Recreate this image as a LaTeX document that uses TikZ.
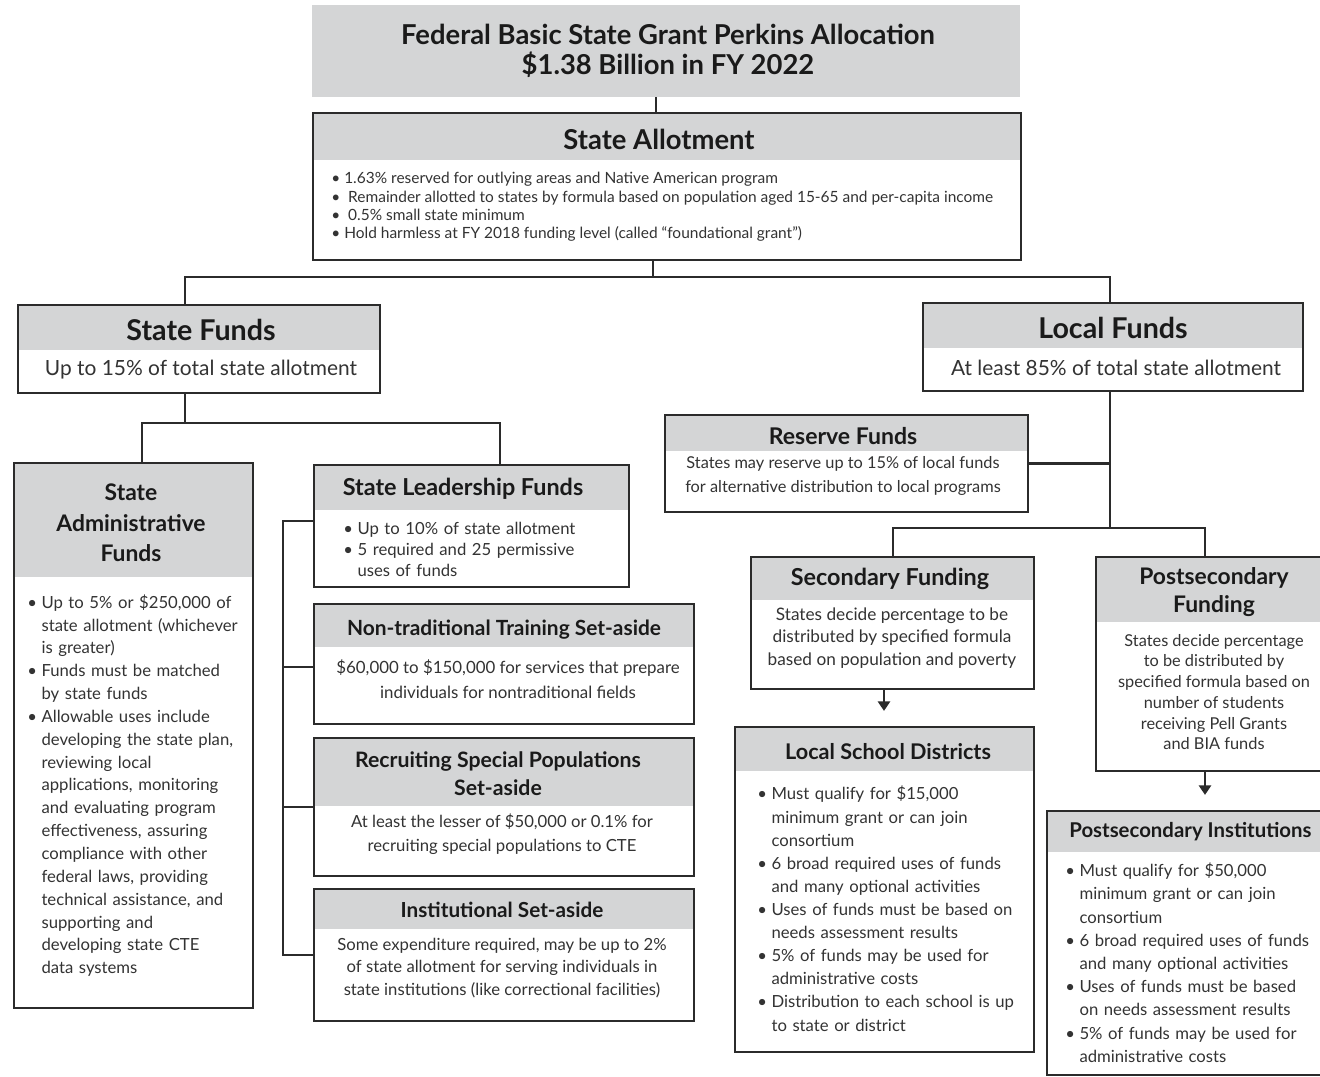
\documentclass[tikz,border=0pt]{standalone}
\usepackage{fontspec}
\setmainfont{Lato}
\usetikzlibrary{fit,arrows.meta}
\definecolor{hdr}{HTML}{D4D5D6}
\definecolor{linec}{HTML}{2B2B2B}
\definecolor{bodyc}{HTML}{333333}
\definecolor{headc}{HTML}{1A1A1A}
\newcommand\fsz[2]{\fontsize{#1}{#2}\selectfont}
\newcommand\bitem{\par\noindent\hangindent=0.85em\hangafter=1\makebox[0.85em][l]{\textbullet}}
\newcommand\panel[6]{\fill[hdr] (#2,#3) rectangle (#4,#6); \node[panel, fit={(#2,#3) (#4,#5)}] (#1) {};}
\begin{document}
\begin{tikzpicture}[x=0.02cm,y=-0.02cm,
 panel/.style={draw=linec,line width=1.3pt,inner sep=0pt},
 conn/.style={draw=linec,line width=1.3pt},
 arr/.style={draw=linec,line width=1.3pt,-{Triangle[width=7pt,length=5.5pt]}},
 head/.style={font=\bfseries\fsz{12.5}{16}, text=headc, align=center, inner sep=0pt},
 bighead/.style={font=\bfseries\fsz{16.3}{19}, text=headc, align=center, inner sep=0pt},
 body/.style={text=bodyc, align=center, inner sep=0pt},
 blist/.style={text=bodyc, inner sep=0pt, anchor=west, text width=#1}]
\useasboundingbox (0,0) rectangle (1320,1077);
\clip (0,0) rectangle (1320,1077);
\fill[white] (0,0) rectangle (1320,1077);

% title
\fill[hdr] (312,5) rectangle (1020,97);
\node[fit={(312,5) (1020,97)}, inner sep=0pt] (ttl) {};
\node[font=\bfseries\fsz{15.6}{17}, text=headc, align=center, inner sep=0pt] (ttlt) at (668,51)
 {Federal Basic State Grant Perkins Allocation\\\$1.38 Billion in FY 2022};

% panels
\panel{sa}{313}{113}{1021}{260}{160}
\panel{sf}{18}{305}{380}{393}{350}
\panel{lf}{923}{303}{1303}{391}{348}
\panel{adm}{14}{463}{253}{1008}{577}
\panel{lead}{314}{465}{629}{587}{510}
\panel{ntr}{314}{604}{694}{724}{647}
\panel{rec}{314}{738}{694}{876}{806}
\panel{inst}{314}{889}{694}{1021}{929}
\panel{res}{665}{415}{1028}{512}{451}
\panel{sec}{751}{557}{1034}{689}{600}
\panel{lsd}{735}{727}{1034}{1052}{771}
\panel{psf}{1096}{557}{1340}{771}{622}
\panel{psi}{1047}{811}{1340}{1075}{852}

% connectors
\coordinate (j0) at (656,105);
\draw[conn] (j0 |- ttl.south) -- (j0 |- sa.north);
\coordinate (j1) at (653,277);
\coordinate (jL) at (185,277);
\coordinate (jR) at (1110,277);
\draw[conn] (j1 |- sa.south) -- (j1);
\draw[conn] (jL |- sf.north) -- (jL) -- (jR) -- (jR |- lf.north);
\coordinate (j2) at (185,423);
\coordinate (j2L) at (142,423);
\coordinate (j2R) at (500,423);
\draw[conn] (j2 |- sf.south) -- (j2);
\draw[conn] (j2L |- adm.north) -- (j2L) -- (j2R) -- (j2R |- lead.north);
\coordinate (b1) at (283,521);
\coordinate (b2) at (283,667);
\coordinate (b3) at (283,807);
\coordinate (b4) at (283,955);
\draw[conn] (b1 -| lead.west) -- (b1) -- (b4) -- (b4 -| inst.west);
\draw[conn] (b2) -- (b2 -| ntr.west);
\draw[conn] (b3) -- (b3 -| rec.west);
\coordinate (j3) at (1110,528);
\draw[conn] (j3 |- lf.south) -- (j3);
\draw[conn] (res.east) -- (res.east -| j3);
\coordinate (j4L) at (893,528);
\coordinate (j4R) at (1205,528);
\draw[conn] (j4L |- sec.north) -- (j4L) -- (j4R) -- (j4R |- psf.north);
\coordinate (a1) at (884,700);
\coordinate (a2) at (1205,790);
\draw[arr, shorten >=8.5pt] (a1 |- sec.south) -- (a1 |- lsd.north);
\draw[arr, shorten >=8.5pt] (a2 |- psf.south) -- (a2 |- psi.north);

% State Allotment
\node[bighead, font=\bfseries\fsz{15.6}{19}] (sah) at (659,139) {State Allotment};
\node[text=bodyc, align=left, inner sep=0pt, anchor=west, font=\fsz{8.8}{10.4}] (sab) at (331,207)
 {\textbullet\ 1.63\% reserved for outlying areas and Native American program\\
  \textbullet\ \ Remainder allotted to states by formula based on population aged 15-65 and per-capita income\\
  \textbullet\ \ 0.5\% small state minimum\\
  \textbullet\ Hold harmless at FY 2018 funding level (called ``foundational grant'')};

% State Funds / Local Funds
\node[bighead] (sfh) at (201,330) {State Funds};
\node[body, font=\fsz{11.9}{13}] (sfb) at (201,370) {Up to 15\% of total state allotment};
\node[bighead] (lfh) at (1113,328) {Local Funds};
\node[body, font=\fsz{11.9}{13}] (lfb) at (1116,368) {At least 85\% of total state allotment};

% Reserve
\node[head, font=\bfseries\fsz{13.1}{16}] (resh) at (843,436) {Reserve Funds};
\node[body, font=\fsz{9.3}{13.6}] (resb) at (843,476) {States may reserve up to 15\% of local funds\\for alternative distribution to local programs};

% State Administrative Funds
\node[head, font=\bfseries\fsz{13}{17.3}] (admh) at (131,523) {State\\Administrative\\Funds};
\node[blist=4.6cm, font=\fsz{9.5}{13}] (admb) at (27,781)
 {\bitem Up to 5\% or \$250,000 of\newline state allotment (whichever\newline is greater)
  \bitem Funds must be matched\newline by state funds
  \bitem Allowable uses include\newline developing the state plan,\newline reviewing local\newline applications, monitoring\newline and evaluating program\newline effectiveness, assuring\newline compliance with other\newline federal laws, providing\newline technical assistance, and\newline supporting and\newline developing state CTE\newline data systems\par};

% State Leadership
\node[head, font=\bfseries\fsz{13.3}{16}] (leadh) at (463,489) {State Leadership Funds};
\node[blist=6cm, font=\fsz{9.5}{11.9}] (leadb) at (343,545)
 {\bitem Up to 10\% of state allotment
  \bitem 5 required and 25 permissive\newline uses of funds\par};

% Non-traditional
\node[head, font=\bfseries\fsz{11.9}{16}] (ntrh) at (504,630) {Non-traditional Training Set-aside};
\node[body, font=\fsz{9.6}{14.2}] (ntrb) at (508,679) {\$60,000 to \$150,000 for services that prepare\\individuals for nontraditional fields};

% Recruiting
\node[head, font=\bfseries\fsz{12.1}{15.9}] (rech) at (498,774) {Recruiting Special Populations\\Set-aside};
\node[body, font=\fsz{9.5}{13.6}] (recb) at (502,834) {At least the lesser of \$50,000 or 0.1\% for\\recruiting special populations to CTE};

% Institutional
\node[head, font=\bfseries\fsz{11.8}{16}] (insth) at (502,910) {Institutional Set-aside};
\node[body, font=\fsz{9.5}{13}] (instb) at (502,968) {Some expenditure required, may be up to 2\%\\of state allotment for serving individuals in\\state institutions (like correctional facilities)};

% Secondary
\node[head, font=\bfseries\fsz{13.3}{16}] (sech) at (890,579) {Secondary Funding};
\node[body, font=\fsz{9.8}{12.8}] (secb) at (892,638) {States decide percentage to be\\distributed by specified formula\\based on population and poverty};

% Local School Districts
\node[head, font=\bfseries\fsz{12.3}{16}] (lsdh) at (888,752) {Local School Districts};
\node[blist=5.6cm, font=\fsz{9.5}{13.15}] (lsdb) at (757,904)
 {\bitem Must qualify for \$15,000\newline minimum grant or can join\newline consortium
  \bitem 6 broad required uses of funds\newline and many optional activities
  \bitem Uses of funds must be based on\newline needs assessment results
  \bitem 5\% of funds may be used for\newline administrative costs
  \bitem Distribution to each school is up\newline to state or district\par};

% Postsecondary Funding
\node[head, font=\bfseries\fsz{13}{15.9}] (psfh) at (1214,592) {Postsecondary\\Funding};
\node[body, font=\fsz{9.3}{11.8}] (psfb) at (1214,692) {States decide percentage\\to be distributed by\\specified formula based on\\number of students\\receiving Pell Grants\\and BIA funds};

% Postsecondary Institutions
\node[head, anchor=west, font=\bfseries\fsz{11.6}{16}] (psih) at (1069,832) {Postsecondary Institutions};
\node[blist=5cm, font=\fsz{9.5}{13.2}] (psib) at (1065,958)
 {\bitem Must qualify for \$50,000\newline minimum grant or can join\newline consortium
  \bitem 6 broad required uses of funds\newline and many optional activities
  \bitem Uses of funds must be based\newline on needs assessment results
  \bitem 5\% of funds may be used for\newline administrative costs\par};
\end{tikzpicture}
\end{document}
